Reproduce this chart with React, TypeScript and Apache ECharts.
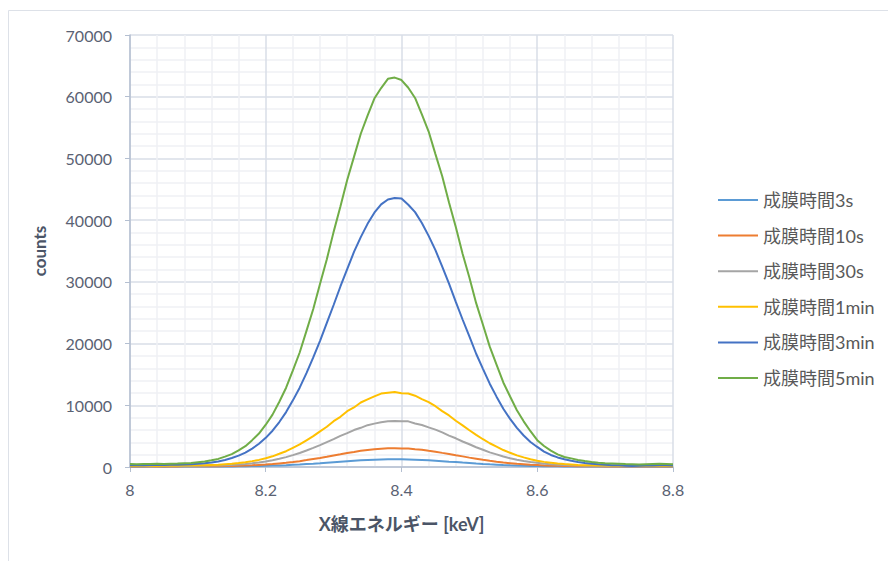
import React, { useEffect, useRef } from "react";
import * as echarts from "echarts";

const energies = [
  8.0, 8.01, 8.02, 8.03, 8.04, 8.05, 8.06, 8.07, 8.08, 8.09,
  8.1, 8.11, 8.12, 8.13, 8.14, 8.15, 8.16, 8.17, 8.18, 8.19,
  8.2, 8.21, 8.22, 8.23, 8.24, 8.25, 8.26, 8.27, 8.28, 8.29,
  8.3, 8.31, 8.32, 8.33, 8.34, 8.35, 8.36, 8.37, 8.38, 8.39,
  8.4, 8.41, 8.42, 8.43, 8.44, 8.45, 8.46, 8.47, 8.48, 8.49,
  8.5, 8.51, 8.52, 8.53, 8.54, 8.55, 8.56, 8.57, 8.58, 8.59,
  8.6, 8.61, 8.62, 8.63, 8.64, 8.65, 8.66, 8.67, 8.68, 8.69,
  8.7, 8.71, 8.72, 8.73, 8.74, 8.75, 8.76, 8.77, 8.78, 8.79,
  8.8,
];

const seriesNames = ["成膜時間3s", "成膜時間10s", "成膜時間30s", "成膜時間1min", "成膜時間3min", "成膜時間5min"];
const seriesColors = ["#5B9BD5", "#ED7D31", "#A5A5A5", "#FFC000", "#4472C4", "#70AD47"];

const counts3s = [
  60, 70, 60, 80, 70, 60, 70, 70, 80, 80,
  80, 90, 90, 100, 100, 100, 110, 125, 145, 165,
  190, 225, 260, 300, 360, 410, 480, 545, 620, 700,
  780, 860, 935, 1010, 1075, 1140, 1180, 1220, 1240, 1250,
  1245, 1220, 1190, 1140, 1085, 1020, 950, 870, 795, 715,
  640, 565, 495, 430, 375, 320, 275, 235, 205, 175,
  150, 135, 120, 105, 95, 90, 85, 80, 75, 70,
  70, 65, 70, 60, 65, 60, 70, 60, 65, 60,
  55,
];

const counts10s = [
  90, 100, 80, 110, 100, 90, 105, 100, 110, 115,
  120, 125, 135, 140, 160, 180, 200, 240, 280, 340,
  400, 470, 580, 690, 810, 950, 1120, 1300, 1470, 1660,
  1880, 2060, 2270, 2440, 2630, 2760, 2880, 2970, 3050, 3030,
  2990, 3000, 2880, 2790, 2620, 2480, 2290, 2110, 1900, 1720,
  1520, 1340, 1160, 1000, 860, 730, 620, 510, 440, 360,
  310, 260, 220, 190, 170, 150, 140, 130, 120, 110,
  100, 110, 90, 100, 80, 90, 100, 90, 80, 90,
  80,
];

const counts30s = [
  130, 140, 150, 140, 160, 150, 160, 165, 170, 180,
  190, 200, 225, 250, 290, 340, 410, 500, 600, 730,
  900, 1090, 1330, 1600, 1920, 2260, 2670, 3090, 3550, 4040,
  4520, 5050, 5480, 5990, 6350, 6780, 7030, 7250, 7400, 7450,
  7420, 7400, 7050, 6800, 6420, 6050, 5600, 5080, 4650, 4130,
  3690, 3200, 2800, 2370, 2050, 1700, 1420, 1190, 970, 800,
  670, 540, 450, 380, 320, 280, 240, 220, 200, 190,
  170, 160, 150, 140, 150, 130, 140, 150, 130, 140,
  130,
];

const counts1min = [
  180, 170, 190, 200, 180, 210, 215, 220, 235, 240,
  265, 290, 330, 360, 440, 510, 630, 760, 950, 1150,
  1430, 1730, 2140, 2560, 3110, 3650, 4330, 5000, 5780, 6520,
  7420, 8130, 9050, 9650, 10450, 10950, 11450, 11900, 12050, 12150,
  11950, 11900, 11550, 11000, 10500, 9850, 9050, 8350, 7500, 6750,
  5950, 5200, 4500, 3850, 3300, 2750, 2300, 1880, 1560, 1250,
  1010, 830, 700, 560, 470, 410, 340, 300, 280, 250,
  230, 220, 200, 190, 170, 180, 160, 150, 170, 160,
  150,
];

const counts3min = [
  280, 300, 290, 320, 310, 330, 350, 370, 390, 450,
  510, 600, 740, 900, 1130, 1450, 1840, 2330, 2980, 3760,
  4720, 5880, 7290, 8900, 10800, 12850, 15200, 17750, 20450, 23350,
  26250, 29250, 32050, 34850, 37250, 39400, 41200, 42550, 43350, 43600,
  43500, 42500, 41300, 39550, 37450, 35150, 32450, 29700, 26750, 23900,
  21150, 18350, 15900, 13500, 11400, 9450, 7800, 6350, 5100, 4050,
  3250, 2500, 1950, 1550, 1250, 1000, 800, 640, 520, 430,
  360, 300, 270, 220, 180, 200, 230, 260, 300, 290,
  260,
];

const counts5min = [
  470, 460, 490, 480, 510, 500, 530, 560, 610, 650,
  770, 880, 1090, 1310, 1680, 2090, 2700, 3380, 4350, 5420,
  6850, 8490, 10580, 12850, 15650, 18550, 22050, 25600, 29700, 33680,
  38100, 42200, 46500, 50250, 54000, 56950, 59700, 61400, 62900, 63100,
  62700, 61450, 59800, 57150, 54350, 50700, 47100, 42850, 38900, 34550,
  30700, 26550, 23050, 19500, 16600, 13700, 11420, 9200, 7400, 5800,
  4350, 3400, 2650, 2050, 1620, 1400, 1150, 960, 800, 680,
  600, 560, 520, 470, 450, 420, 460, 500, 520, 480,
  430,
];

const allCounts = [counts3s, counts10s, counts30s, counts1min, counts3min, counts5min];

const FONT = "Lato, 'Noto Sans CJK JP', sans-serif";
const axisColor = "#b4bfd1";
const labelColor = "#5a6273";

export default function App() {
  const ref = useRef<HTMLDivElement>(null);
  useEffect(() => {
    if (!ref.current) return;
    const chart = echarts.init(ref.current, undefined, { renderer: "svg" });
    chart.setOption({
      animation: false,
      backgroundColor: "#ffffff",
      textStyle: { fontFamily: FONT },
      graphic: [
        {
          type: "rect",
          shape: { x: 8.5, y: 10.5, width: 1000, height: 1000 },
          style: { fill: "none", stroke: "#dde1e8", lineWidth: 1 },
          silent: true,
        },
      ],
      grid: { left: 130, right: 215, top: 35, bottom: 94, containLabel: false },
      legend: {
        orient: "vertical",
        left: 718,
        top: 191,
        padding: 0,
        itemWidth: 40,
        itemHeight: 2,
        itemGap: 17.6,
        icon: "rect",
        textStyle: { fontFamily: FONT, fontSize: 18, color: "#595959", lineHeight: 18 },
        data: seriesNames,
      },
      xAxis: {
        type: "value",
        min: 8,
        max: 8.8,
        interval: 0.2,
        name: "X線エネルギー [keV]",
        nameLocation: "middle",
        nameGap: 48,
        nameTextStyle: { fontFamily: FONT, fontSize: 18, fontWeight: "bold", color: "#4b5567" },
        axisLine: { show: true, onZero: false, lineStyle: { color: axisColor, width: 1.5 } },
        axisTick: { show: true, length: 5, lineStyle: { color: axisColor } },
        minorTick: { show: false, splitNumber: 5 },
        axisLabel: { fontFamily: FONT, fontSize: 16, color: labelColor, margin: 14 },
        splitLine: { show: true, lineStyle: { color: "#d9dee7", width: 1.5 } },
        minorSplitLine: { show: true, lineStyle: { color: "#eff1f5", width: 1.5 } },
      },
      yAxis: {
        type: "value",
        min: 0,
        max: 70000,
        interval: 10000,
        name: "counts",
        nameLocation: "middle",
        nameGap: 82,
        nameRotate: 90,
        nameTextStyle: { fontFamily: FONT, fontSize: 17, fontWeight: "bold", color: "#4b5567" },
        axisLine: { show: true, lineStyle: { color: axisColor, width: 1.5 } },
        axisTick: { show: true, length: 5, lineStyle: { color: axisColor } },
        minorTick: { show: false, splitNumber: 5 },
        axisLabel: {
          fontFamily: FONT,
          fontSize: 16,
          color: labelColor,
          margin: 18,
          formatter: (v: number) => String(v),
        },
        splitLine: { show: true, lineStyle: { color: "#d9dee7", width: 1.5 } },
        minorSplitLine: { show: true, lineStyle: { color: "#eff1f5", width: 1.5 } },
      },
      series: seriesNames.map((name, si) => ({
        name,
        type: "line",
        showSymbol: false,
        symbol: "none",
        smooth: false,
        color: seriesColors[si],
        lineStyle: { width: 2, color: seriesColors[si] },
        data: energies.map((e, i) => [e, allCounts[si][i]]),
      })),
    });
    return () => chart.dispose();
  }, []);
  return (
    <div
      ref={ref}
      style={{ position: "absolute", left: 0, top: 0, width: 888, height: 561 }}
    />
  );
}
